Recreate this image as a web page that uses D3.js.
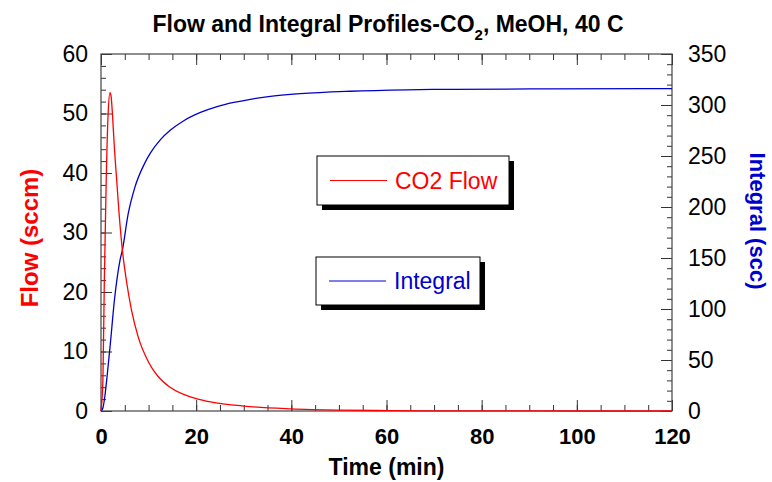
<!DOCTYPE html>
<html>
<head>
<meta charset="utf-8">
<script src="https://cdn.jsdelivr.net/npm/d3@7"></script>
<style>
  body { margin: 0; background: #fff; }
  svg { font-family: "Liberation Sans", Arial, sans-serif; }
  .axis line { stroke: #333; }
</style>
</head>
<body>
<div id="chart"></div>
<script>
// time (min) and CO2 flow (sccm)
var flowTime = [0, 0.4, 0.7, 1.1, 1.5, 1.9, 2.1, 2.4, 2.8, 3.3, 3.8, 4.5, 5.4, 6.4, 7.8, 10, 12, 14, 17.5, 20, 23, 30, 40, 50, 60, 70, 80, 100, 120];
var flowVals = [0, 5.2, 22, 39, 50, 53.5, 53, 50, 44.4, 38.8, 33.2, 27, 21.6, 17, 12.5, 8.2, 5.8, 4.3, 2.75, 2.1, 1.55, 0.83, 0.36, 0.15, 0.07, 0.03, 0.013, 0.003, 0];

// time (min) and integral (scc)
var intTime = [0, 0.4, 0.8, 1.3, 1.9, 2.9, 4.0, 4.5, 5.7, 7.1, 9.2, 10.4, 12.5, 14.6, 17.4, 20.9, 24.4, 27.9, 31.4, 35.2, 41.9, 52.4, 64.3, 74, 94, 120];
var intVals = [0, 3, 14, 35, 63, 112, 148, 158, 193, 219, 243, 253, 266, 275.4, 284.6, 292.7, 298.4, 302.5, 305.6, 308.2, 311.1, 313.5, 314.9, 315.4, 315.8, 316];

var xMajor = [0, 20, 40, 60, 80, 100, 120];
var yLeftMajor = [0, 10, 20, 30, 40, 50, 60];
var yRightMajor = [0, 50, 100, 150, 200, 250, 300, 350];

var legendNames = ["CO2 Flow", "Integral"];
var flowColor = "#ff0000", intColor = "#0000cc";

var W = 772, H = 482;
var margin = {top: 54, right: 100, bottom: 71, left: 101};
var width = W - margin.left - margin.right;
var height = H - margin.top - margin.bottom;

var svg = d3.select("#chart").append("svg")
    .attr("width", W)
    .attr("height", H);

var g = svg.append("g")
    .attr("transform", "translate(" + margin.left + "," + margin.top + ")");

var x = d3.scaleLinear().domain([0, 120]).range([0, width]);
var yL = d3.scaleLinear().domain([0, 60]).range([height, 0]);
var yR = d3.scaleLinear().domain([0, 350]).range([height, 0]);

function minors(scale, step) {
  return d3.range(scale.domain()[0], scale.domain()[1] + step / 2, step);
}

// minor ticks
g.append("g").attr("class", "axis")
    .attr("transform", "translate(0," + height + ")")
    .call(d3.axisBottom(x).tickValues(minors(x, 5)).tickSize(-6).tickFormat(""));
g.append("g").attr("class", "axis")
    .call(d3.axisTop(x).tickValues(minors(x, 5)).tickSize(-6).tickFormat(""));
g.append("g").attr("class", "axis")
    .call(d3.axisLeft(yL).tickValues(minors(yL, 2)).tickSize(-5).tickFormat(""));
g.append("g").attr("class", "axis")
    .attr("transform", "translate(" + width + ",0)")
    .call(d3.axisRight(yR).tickValues(minors(yR, 10)).tickSize(-5).tickFormat(""));

// major ticks + labels
var xAxis = g.append("g").attr("class", "axis")
    .attr("transform", "translate(0," + height + ")")
    .call(d3.axisBottom(x).tickValues(xMajor).tickSize(-11).tickPadding(17));
xAxis.selectAll("text").attr("font-size", 22).attr("font-weight", "bold").attr("fill", "#000");

g.append("g").attr("class", "axis")
    .call(d3.axisTop(x).tickValues(xMajor).tickSize(-11).tickFormat(""));

var yAxisL = g.append("g").attr("class", "axis")
    .call(d3.axisLeft(yL).tickValues(yLeftMajor).tickSize(-11).tickPadding(13));
yAxisL.selectAll("text").attr("font-size", 23).attr("fill", "#000");

var yAxisR = g.append("g").attr("class", "axis")
    .attr("transform", "translate(" + width + ",0)")
    .call(d3.axisRight(yR).tickValues(yRightMajor).tickSize(-11).tickPadding(16));
yAxisR.selectAll("text").attr("font-size", 23).attr("fill", "#000");

g.selectAll(".axis path.domain").remove();

// frame
g.append("rect")
    .attr("width", width).attr("height", height)
    .attr("fill", "none").attr("stroke", "#444").attr("stroke-width", 1.2);

// lines
var flowData = flowTime.map(function (t, i) { return {t: t, v: flowVals[i]}; });
var intData = intTime.map(function (t, i) { return {t: t, v: intVals[i]}; });

var flowLine = d3.line()
    .x(function (d) { return x(d.t); })
    .y(function (d) { return yL(d.v); })
    .curve(d3.curveMonotoneX);
var intLine = d3.line()
    .x(function (d) { return x(d.t); })
    .y(function (d) { return yR(d.v); })
    .curve(d3.curveMonotoneX);

g.append("path").datum(intData)
    .attr("d", intLine)
    .attr("fill", "none").attr("stroke", intColor).attr("stroke-width", 1.3);
g.append("path").datum(flowData)
    .attr("d", flowLine)
    .attr("fill", "none").attr("stroke", flowColor).attr("stroke-width", 1.3);

// legend boxes
var legends = [
  {name: legendNames[0], color: flowColor, x: 317, y: 156, w: 192, h: 49},
  {name: legendNames[1], color: intColor, x: 316, y: 257, w: 164, h: 48}
];
legends.forEach(function (l) {
  var lg = svg.append("g").attr("transform", "translate(" + l.x + "," + l.y + ")");
  lg.append("rect").attr("x", 5).attr("y", 5).attr("width", l.w).attr("height", l.h).attr("fill", "#000");
  lg.append("rect").attr("width", l.w).attr("height", l.h)
      .attr("fill", "#fff").attr("stroke", "#000").attr("stroke-width", 1);
  lg.append("line").attr("x1", 13).attr("x2", 70).attr("y1", l.h / 2).attr("y2", l.h / 2)
      .attr("stroke", l.color).attr("stroke-width", 1.2);
  lg.append("text").attr("x", 78).attr("y", l.h / 2 + 8)
      .attr("font-size", 23).attr("fill", l.color).text(l.name);
});

// title
var title = svg.append("text")
    .attr("x", 388).attr("y", 32)
    .attr("text-anchor", "middle")
    .attr("font-size", 23).attr("font-weight", "bold");
title.append("tspan").text("Flow and Integral Profiles-CO");
title.append("tspan").attr("dy", 8).attr("font-size", 15).text("2");
title.append("tspan").attr("dy", -8).text(", MeOH, 40 C");

// axis labels
svg.append("text")
    .attr("x", margin.left + width / 2).attr("y", 475)
    .attr("text-anchor", "middle")
    .attr("font-size", 23).attr("font-weight", "bold")
    .text("Time (min)");

svg.append("text")
    .attr("transform", "translate(38,238) rotate(-90)")
    .attr("text-anchor", "middle")
    .attr("font-size", 24).attr("font-weight", "bold").attr("fill", flowColor)
    .text("Flow (sccm)");

svg.append("text")
    .attr("transform", "translate(750,221) rotate(90)")
    .attr("text-anchor", "middle")
    .attr("font-size", 22).attr("font-weight", "bold").attr("fill", intColor)
    .text("Integral (scc)");
</script>
</body>
</html>
